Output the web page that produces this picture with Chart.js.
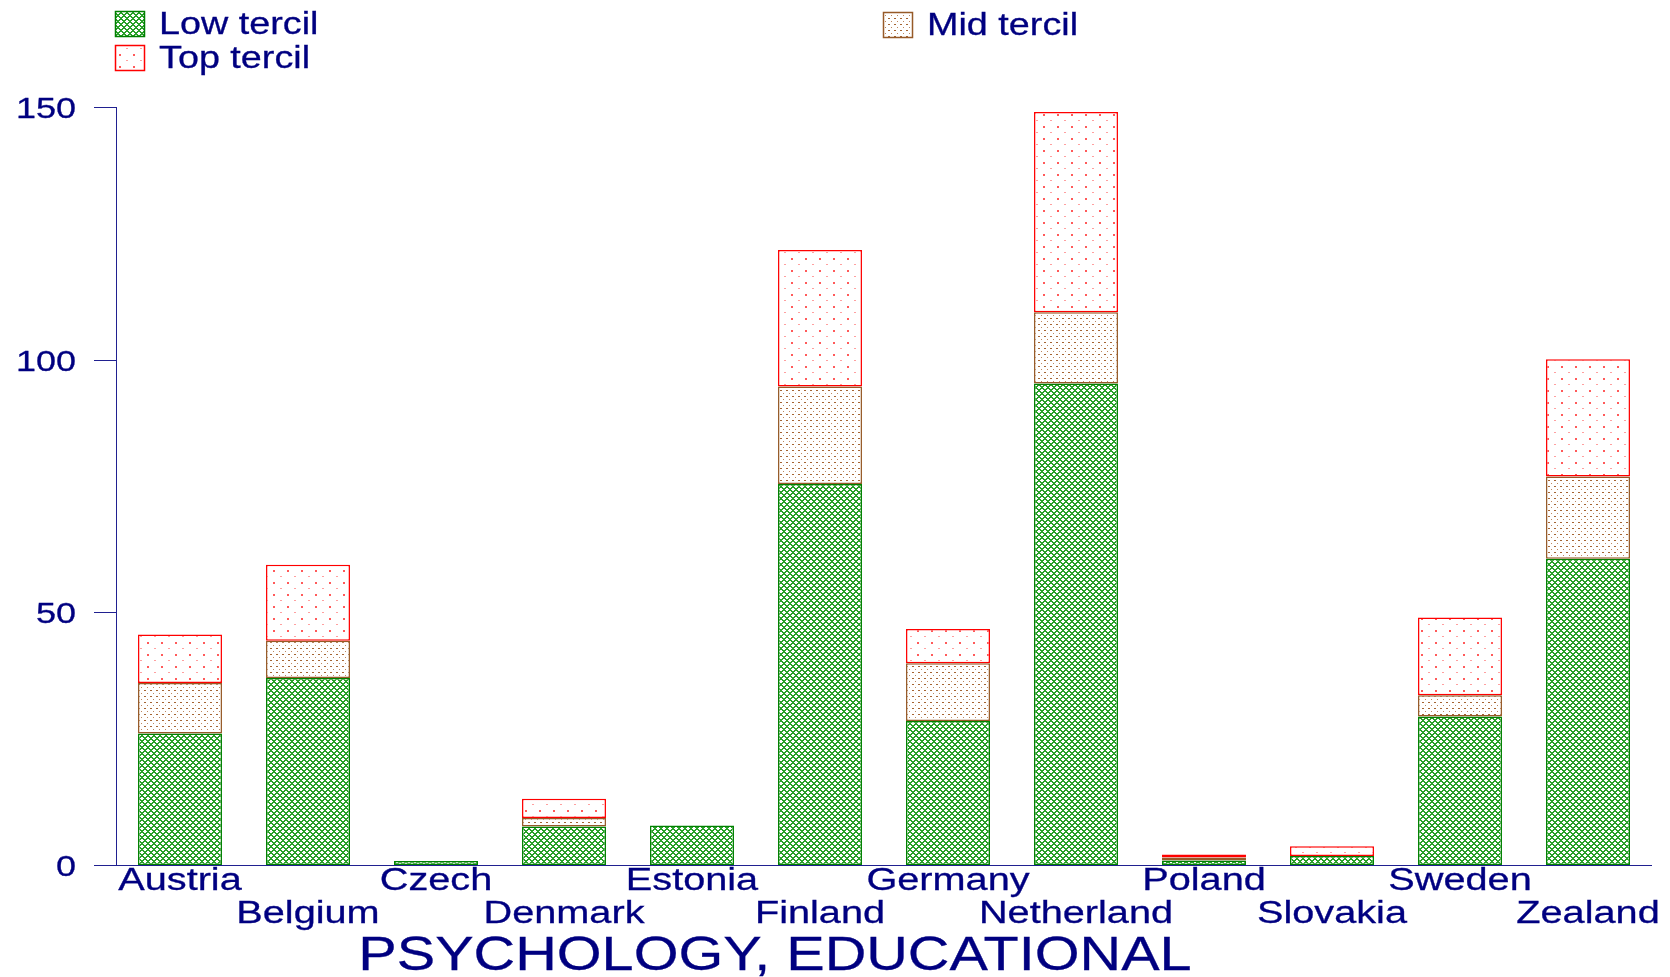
<!DOCTYPE html>
<html>
<head>
<meta charset="utf-8">
<script src="https://cdn.jsdelivr.net/npm/chart.js@4/dist/chart.umd.min.js"></script>
<style>
  html, body { margin: 0; padding: 0; background: #fff; }
</style>
</head>
<body>
<canvas id="chart" width="1670" height="977"></canvas>
<script>
const countries = ["Austria", "Belgium", "Czech", "Denmark", "Estonia", "Finland", "Germany", "Netherland", "Poland", "Slovakia", "Sweden", "Zealand"];
const lowTercil = [26, 37, 0.8, 7.6, 7.8, 75.4, 28.5, 95.3, 0.9, 1.8, 29.4, 60.6];
const midTercil = [10, 7.4, null, 1.7, null, 19.3, 11.4, 14.1, 0.6, null, 4.2, 16.3];
const topTercil = [9.6, 15, null, 3.8, null, 27, 6.8, 39.6, 0.6, 1.9, 15.4, 23.2];
const yTicks = [0, 50, 100, 150];
const chartTitle = "PSYCHOLOGY, EDUCATIONAL";

const navy = "#000080";
const font = '"Liberation Sans", Arial, sans-serif';

function makeTile(w, h, draw) {
  const c = document.createElement("canvas");
  c.width = w;
  c.height = h;
  const g = c.getContext("2d");
  g.fillStyle = "#fff";
  g.fillRect(0, 0, w, h);
  draw(g);
  return g.createPattern(c, "repeat");
}

// green crosshatch
const lowFill = makeTile(6, 6, (g) => {
  g.fillStyle = "rgb(40,160,40)";
  for (let x = 0; x < 6; x++) {
    for (let y = 0; y < 6; y++) {
      if ((x + y) % 6 < 2 || (x - y + 60) % 6 < 2) g.fillRect(x, y, 1, 1);
    }
  }
});
// brown dots
const midFill = makeTile(6, 6, (g) => {
  g.fillStyle = "rgb(165,100,50)";
  g.fillRect(0, 0, 2, 1);
  g.fillStyle = "rgb(190,135,95)";
  g.fillRect(3, 3, 1, 1);
});
// sparse red dots
const topFill = makeTile(14, 12, (g) => {
  g.fillStyle = "rgb(255,90,90)";
  g.fillRect(7, 6, 2, 2);
  g.fillStyle = "rgb(255,160,160)";
  g.fillRect(0, 0, 2, 1);
});

function stretchText(ctx, text, x, y, align, size, sx) {
  ctx.save();
  ctx.translate(x, y);
  ctx.scale(sx, 1);
  ctx.font = size + "px " + font;
  ctx.textAlign = align;
  ctx.textBaseline = "alphabetic";
  ctx.fillStyle = navy;
  ctx.strokeStyle = navy;
  ctx.lineWidth = 0.3;
  ctx.fillText(text, 0, 0);
  ctx.strokeText(text, 0, 0);
  ctx.restore();
}

const decor = {
  id: "decor",
  afterDraw(chart) {
    const ctx = chart.ctx;
    const area = chart.chartArea;
    const xs = chart.scales.x;
    const ys = chart.scales.y;

    // axes
    ctx.save();
    ctx.strokeStyle = "#202090";
    ctx.lineWidth = 1;
    ctx.beginPath();
    ctx.moveTo(area.left + 0.5, ys.getPixelForValue(150));
    ctx.lineTo(area.left + 0.5, area.bottom);
    ctx.moveTo(area.left, Math.round(area.bottom) + 0.5);
    ctx.lineTo(area.right, Math.round(area.bottom) + 0.5);
    yTicks.forEach((v) => {
      const y = Math.round(ys.getPixelForValue(v)) + 0.5;
      ctx.moveTo(area.left - 22, y);
      ctx.lineTo(area.left, y);
    });
    ctx.stroke();
    ctx.restore();

    // y tick labels
    yTicks.forEach((v) => {
      const y = ys.getPixelForValue(v);
      stretchText(ctx, String(v), area.left - 40, y + 11, "right", 30, 1.2);
    });

    // category labels, staggered in two rows
    countries.forEach((name, i) => {
      const x = xs.getPixelForValue(i);
      const y = i % 2 === 0 ? area.bottom + 25 : area.bottom + 58;
      stretchText(ctx, name, x, y, "center", 31, 1.28);
    });

    // title
    stretchText(ctx, chartTitle, 775, 970, "center", 48, 1.2);

    // legend
    const items = [
      { ds: 0, x: 115, y: 11 },
      { ds: 2, x: 115, y: 45 },
      { ds: 1, x: 883, y: 12 },
    ];
    items.forEach((it) => {
      const ds = chart.data.datasets[it.ds];
      ctx.save();
      ctx.fillStyle = ds.backgroundColor;
      ctx.fillRect(it.x, it.y, 30, 26);
      ctx.strokeStyle = ds.borderColor;
      ctx.lineWidth = 1.5;
      ctx.strokeRect(it.x + 0.5, it.y + 0.5, 29, 25);
      ctx.restore();
      stretchText(ctx, ds.label, it.x + 44, it.y + 23, "left", 32, 1.18);
    });
  },
};

new Chart(document.getElementById("chart").getContext("2d"), {
  type: "bar",
  data: {
    labels: countries,
    datasets: [
      { label: "Low tercil", data: lowTercil, backgroundColor: lowFill, borderColor: "#008000" },
      { label: "Mid tercil", data: midTercil, backgroundColor: midFill, borderColor: "#965a28" },
      { label: "Top tercil", data: topTercil, backgroundColor: topFill, borderColor: "#ff0000" },
    ],
  },
  options: {
    responsive: false,
    devicePixelRatio: 1,
    animation: false,
    layout: { padding: { left: 116, right: 18, top: 107, bottom: 112 } },
    datasets: {
      bar: { barPercentage: 0.656, categoryPercentage: 1, borderWidth: 1.5, borderSkipped: false },
    },
    plugins: { legend: { display: false }, tooltip: { enabled: false } },
    scales: {
      x: { stacked: true, display: false },
      y: { stacked: true, display: false, min: 0, max: 150 },
    },
  },
  plugins: [decor],
});
</script>
</body>
</html>
